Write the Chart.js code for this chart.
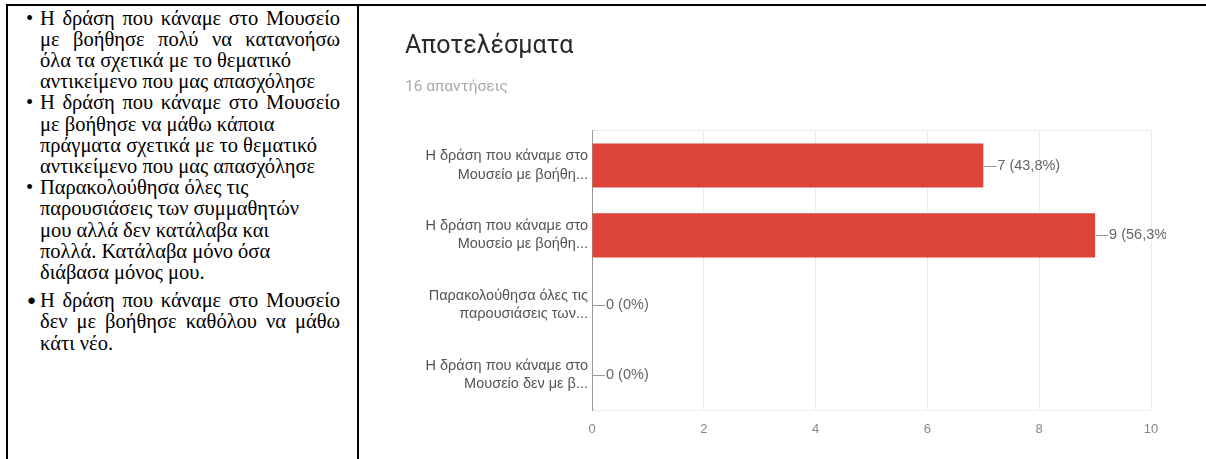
<!DOCTYPE html>
<html>
<head>
<meta charset="utf-8">
<script src="https://cdn.jsdelivr.net/npm/chart.js@4/dist/chart.umd.min.js"></script>
<style>
  html, body { margin: 0; padding: 0; background: #fff; }
  body { width: 1206px; height: 459px; position: relative; overflow: hidden; }
  .rule { position: absolute; background: #000; }
  #left { position: absolute; left: 0; top: 0; width: 357px; height: 459px;
          font-family: "Liberation Serif", "Times New Roman", serif; font-size: 20.5px; color: #000; }
  .ln { position: absolute; left: 40px; width: 300px; height: 21px; line-height: 21px; white-space: nowrap; }
  .j { text-align: justify; text-align-last: justify; }
  .b { position: absolute; line-height: 21px; }
  #wrap { position: absolute; left: 360px; top: 7px; width: 846px; height: 452px; }
</style>
</head>
<body>
<div class="rule" style="left:6px;top:4px;width:1200px;height:2px;"></div>
<div class="rule" style="left:6px;top:4px;width:2px;height:455px;"></div>
<div class="rule" style="left:357px;top:4px;width:2px;height:455px;"></div>

<div id="left"></div>

<div id="wrap"><canvas id="c" width="846" height="452"></canvas></div>

<script>
// ---- left cell text (real text) ----
const bulletItems = [
  [["Η δράση που κάναμε στο Μουσείο", true], ["με βοήθησε πολύ να κατανοήσω", true], ["όλα τα σχετικά με το θεματικό", false], ["αντικείμενο που μας απασχόλησε", false]],
  [["Η δράση που κάναμε στο Μουσείο", true], ["με βοήθησε να μάθω κάποια", false], ["πράγματα σχετικά με το θεματικό", false], ["αντικείμενο που μας απασχόλησε", false]],
  [["Παρακολούθησα όλες τις", false], ["παρουσιάσεις των συμμαθητών", false], ["μου αλλά δεν κατάλαβα και", false], ["πολλά. Κατάλαβα μόνο όσα", false], ["διάβασα μόνος μου.", false]],
  [["Η δράση που κάναμε στο Μουσείο", true], ["δεν με βοήθησε καθόλου να μάθω", true], ["κάτι νέο.", false]]
];

// ---- chart data ----
const categories = [
  ["Η δράση που κάναμε στο", "Μουσείο με βοήθη..."],
  ["Η δράση που κάναμε στο", "Μουσείο με βοήθη..."],
  ["Παρακολούθησα όλες τις", "παρουσιάσεις των..."],
  ["Η δράση που κάναμε στο", "Μουσείο δεν με β..."]
];
const counts = [7, 9, 0, 0];
const percents = ["43,8%", "56,3%", "0%", "0%"];
const xTicks = [0, 2, 4, 6, 8, 10];
const chartTitle = "Αποτελέσματα";
const chartSubtitle = "16 απαντήσεις";

// build left text
(function () {
  const left = document.getElementById('left');
  let y = 7.5;
  bulletItems.forEach((item, i) => {
    if (i === 3) y += 7;
    const b = document.createElement('div');
    b.className = 'b';
    if (i === 3) { b.textContent = '●'; b.style.left = '27px'; b.style.fontSize = '15px'; }
    else { b.textContent = '•'; b.style.left = '26px'; }
    b.style.top = y + 'px';
    left.appendChild(b);
    item.forEach(([t, just]) => {
      const d = document.createElement('div');
      d.className = 'ln' + (just ? ' j' : '');
      d.style.top = y + 'px';
      d.textContent = t;
      left.appendChild(d);
      y += 21.2;
    });
  });
})();

const AX_LEFT = 405 - 360;   // chart content left inside canvas
const AX_X = 592 - 360;      // y-axis line position inside canvas

const valueLabels = {
  id: 'valueLabels',
  afterDatasetsDraw(chart) {
    const ctx = chart.ctx;
    const meta = chart.getDatasetMeta(0);
    ctx.save();
    ctx.beginPath();
    ctx.rect(0, 0, 806, chart.height);
    ctx.clip();
    ctx.font = '14.5px "Liberation Sans", Arial, sans-serif';
    ctx.textBaseline = 'middle';
    ctx.textAlign = 'left';
    meta.data.forEach((bar, i) => {
      const x = bar.x, y = bar.y;
      ctx.strokeStyle = '#999';
      ctx.lineWidth = 1;
      ctx.beginPath();
      ctx.moveTo(x + 1, Math.round(y) + 0.5);
      ctx.lineTo(x + 13, Math.round(y) + 0.5);
      ctx.stroke();
      ctx.fillStyle = '#666';
      ctx.fillText(counts[i] + ' (' + percents[i] + ')', x + 14, y);
    });
    ctx.restore();
  }
};

new Chart(document.getElementById('c'), {
  type: 'bar',
  data: {
    labels: categories,
    datasets: [{
      data: counts,
      backgroundColor: '#db4437',
      borderWidth: 0,
      barPercentage: 0.63,
      categoryPercentage: 1.0
    }]
  },
  plugins: [valueLabels],
  options: {
    indexAxis: 'y',
    responsive: false,
    animation: false,
    devicePixelRatio: 1,
    layout: { padding: { left: AX_LEFT, right: 55, top: 0, bottom: 19 } },
    plugins: {
      legend: { display: false },
      tooltip: { enabled: false },
      title: {
        display: true, text: chartTitle, align: 'start', color: '#2a2a2a',
        font: { family: 'Roboto', size: 25, weight: 'normal', lineHeight: 1.2 },
        padding: { top: 25, bottom: 0 }
      },
      subtitle: {
        display: true, text: chartSubtitle, align: 'start', color: '#aaa',
        font: { family: 'Roboto', size: 15.5, weight: 'normal', lineHeight: 1.2 },
        padding: { top: 16, bottom: 34 }
      }
    },
    scales: {
      x: {
        min: 0, max: 10,
        afterBuildTicks(scale) { scale.ticks = xTicks.map(v => ({ value: v })); },
        afterFit(scale) { scale.height = 30; },
        grid: { color: '#ececec', drawTicks: false },
        border: { display: true, color: '#ececec' },
        ticks: { color: '#888', padding: 12, font: { family: '"Liberation Sans", Arial', size: 13 } }
      },
      y: {
        afterFit(scale) { scale.width = AX_X - AX_LEFT; },
        grid: {
          drawTicks: false,
          color: ctx => ctx.index === 0 ? '#ececec' : 'rgba(0,0,0,0)'
        },
        border: { display: true, color: '#999' },
        ticks: {
          color: '#555', padding: 4,
          font: { family: '"Liberation Sans", Arial', size: 14.5, lineHeight: 1.25 }
        }
      }
    }
  }
});
</script>
</body>
</html>
